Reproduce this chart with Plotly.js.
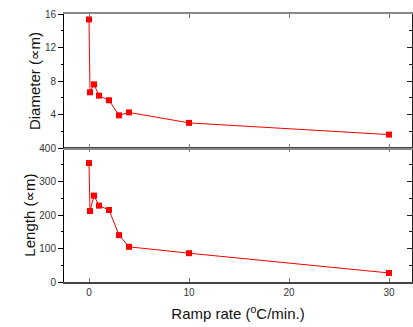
<!DOCTYPE html>
<html><head><meta charset="utf-8">
<script src="https://cdn.plot.ly/plotly-3.0.1.min.js"></script>
<style>html,body{margin:0;padding:0;background:#fff}</style>
</head><body><div id="c" style="width:413px;height:327px"></div>
<script>
const rampRate = [0, 0.1, 0.5, 1, 2, 3, 4, 10, 30];
const diameter = [15.35, 6.65, 7.6, 6.25, 5.7, 3.9, 4.25, 3.0, 1.6];
const rampRateL = [0, 0.1, 0.5, 1, 2, 3, 4, 10, 30];
const lengthVals = [355, 212, 258, 228, 215, 140, 105, 86, 27];
const xTicks = [0, 10, 20, 30];
const dTicks = [4, 8, 12, 16];
const lTicks = [0, 100, 200, 300, 400];

const red = '#ff0000';
const tf = {family: 'Liberation Sans, Arial, sans-serif', size: 10, color: '#333'};
const ttf = {family: 'Liberation Sans, Arial, sans-serif', size: 15, color: '#111'};
const mu = '<span style="font-family:DejaVu Sans">∝</span>';
const traces = [
  {x: rampRateL, y: lengthVals, xaxis: 'x', yaxis: 'y', mode: 'lines+markers',
   line: {color: red, width: 1}, marker: {symbol: 'square', size: 6, color: red}, hoverinfo: 'skip'},
  {x: rampRate, y: diameter, xaxis: 'x2', yaxis: 'y2', mode: 'lines+markers',
   line: {color: red, width: 1}, marker: {symbol: 'square', size: 6, color: red}, hoverinfo: 'skip'},
  {x: [xTicks[0]], y: [lTicks[0]], xaxis: 'x', yaxis: 'y3', mode: 'markers', marker: {opacity: 0}, hoverinfo: 'skip'},
  {x: [xTicks[0]], y: [dTicks[0]], xaxis: 'x2', yaxis: 'y4', mode: 'markers', marker: {opacity: 0}, hoverinfo: 'skip'}
];
const xr = [-2.5, 32.3];
const layout = {
  width: 413, height: 327, showlegend: false,
  margin: {l: 64, r: 1, t: 14, b: 45},
  paper_bgcolor: '#fff', plot_bgcolor: '#fff',
  xaxis: {domain: [0, 1], anchor: 'y', range: xr, tickvals: xTicks, ticks: 'inside', ticklen: 4,
    showline: true, linecolor: '#444', linewidth: 1.5, mirror: 'ticks', showgrid: false, zeroline: false,
    tickfont: tf, tickcolor: '#777',
    title: {text: 'Ramp rate (<sup>o</sup>C/min.)', font: ttf, standoff: 12}},
  xaxis2: {domain: [0, 1], anchor: 'y2', range: xr, tickvals: xTicks, ticks: 'inside', ticklen: 4,
    showticklabels: false, showline: true, linecolor: '#888', linewidth: 2, mirror: 'ticks',
    showgrid: false, zeroline: false, tickcolor: '#777'},
  yaxis: {domain: [0, 0.5], anchor: 'x', range: [0, 400], tickvals: lTicks, ticks: 'outside', ticklen: 5,
    showline: true, linecolor: '#000', linewidth: 1, showgrid: false, zeroline: false,
    tickfont: tf, tickcolor: '#000',
    minor: {dtick: 50, ticks: 'outside', ticklen: 2, tickcolor: '#000'},
    title: {text: 'Length (' + mu + 'm)', font: ttf, standoff: 0}},
  yaxis2: {domain: [0.5, 1], anchor: 'x2', range: [0, 16], tickvals: dTicks, ticks: 'outside', ticklen: 5,
    showline: true, linecolor: '#000', linewidth: 1, showgrid: false, zeroline: false,
    tickfont: tf, tickcolor: '#000',
    minor: {dtick: 2, ticks: 'outside', ticklen: 2, tickcolor: '#000'},
    title: {text: 'Diameter (' + mu + 'm)', font: ttf, standoff: 0}},
  yaxis3: {overlaying: 'y', side: 'right', anchor: 'x', range: [0, 400], dtick: 100, ticks: 'inside', ticklen: 5,
    showticklabels: false, showline: true, linecolor: '#222', linewidth: 1, showgrid: false, zeroline: false,
    tickcolor: '#222', minor: {dtick: 50, ticks: 'inside', ticklen: 3, tickcolor: '#222'}},
  yaxis4: {overlaying: 'y2', side: 'right', anchor: 'x2', range: [0, 16], dtick: 4, ticks: 'inside', ticklen: 5,
    showticklabels: false, showline: true, linecolor: '#222', linewidth: 1, showgrid: false, zeroline: false,
    tickcolor: '#222', minor: {dtick: 2, ticks: 'inside', ticklen: 3, tickcolor: '#222'}}
};
Plotly.newPlot('c', traces, layout, {staticPlot: true});
</script></body></html>
